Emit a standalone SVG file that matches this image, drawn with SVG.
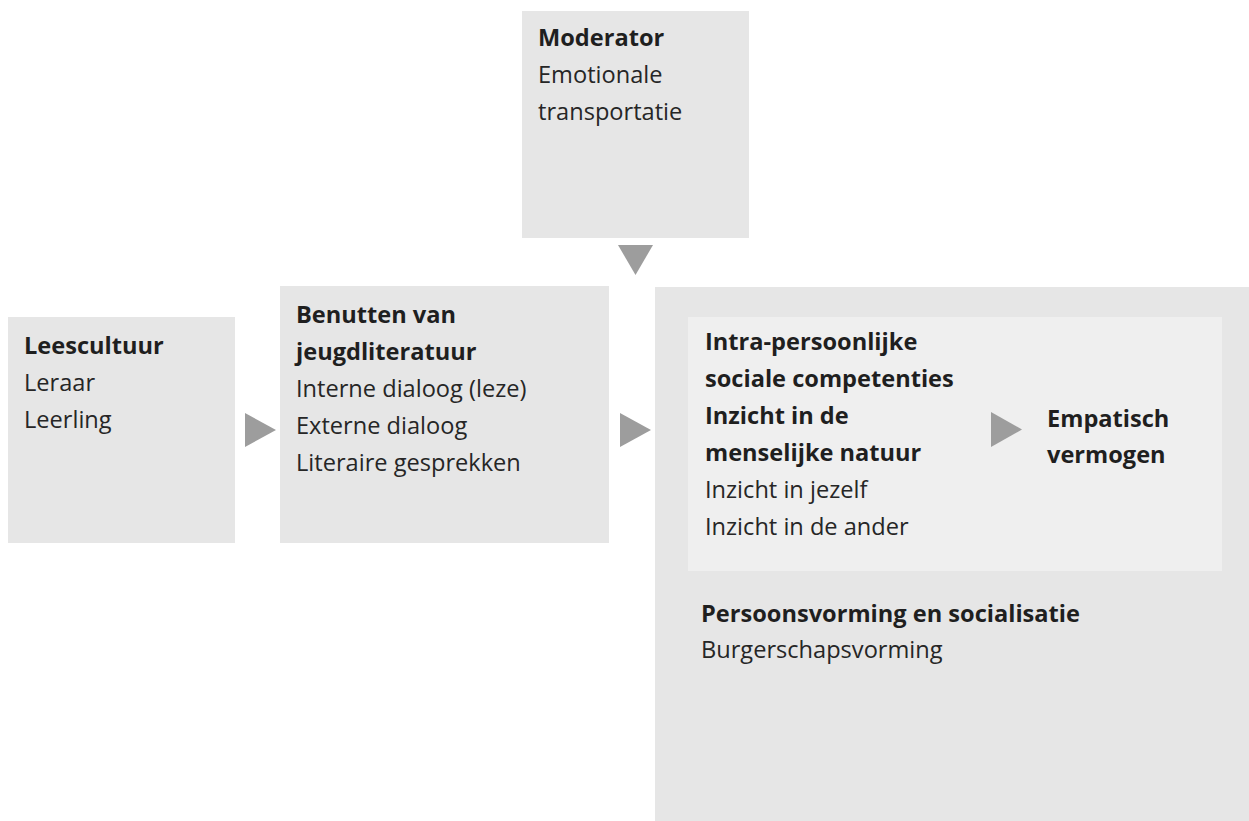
<svg xmlns="http://www.w3.org/2000/svg" width="1249" height="821" viewBox="0 0 1249 821">
<style>
.box{fill:#e6e6e6}
.inner{fill:#efefef}
.arr{fill:#9d9d9d}
text{font-family:"Open Sans","Noto Sans","Liberation Sans",sans-serif;font-size:23.6px;fill:#262626}
.b{font-weight:bold;fill:#1f1f1f}
</style>
<rect width="1249" height="821" fill="#ffffff"/>
<g id="node-moderator">
<rect class="box" x="522" y="11" width="227" height="227"/>
<text x="538" y="46" class="b">Moderator</text>
<text x="538" y="83">Emotionale</text>
<text x="538" y="120">transportatie</text>
</g>
<g id="node-leescultuur">
<rect class="box" x="8" y="317" width="227" height="226"/>
<text x="24" y="354" class="b">Leescultuur</text>
<text x="24" y="391">Leraar</text>
<text x="24" y="428">Leerling</text>
</g>
<g id="node-benutten">
<rect class="box" x="280" y="286" width="329" height="257"/>
<text x="296" y="323" class="b">Benutten van</text>
<text x="296" y="360" class="b">jeugdliteratuur</text>
<text x="296" y="397">Interne dialoog (leze)</text>
<text x="296" y="434">Externe dialoog</text>
<text x="296" y="471">Literaire gesprekken</text>
</g>
<g id="node-persoonsvorming">
<rect class="box" x="655" y="287" width="594" height="534"/>
<text x="701" y="622" class="b">Persoonsvorming en socialisatie</text>
<text x="701" y="658">Burgerschapsvorming</text>
</g>
<g id="node-competenties">
<rect class="inner" x="688" y="317" width="534" height="254"/>
<text x="705" y="350" class="b">Intra-persoonlijke</text>
<text x="705" y="387" class="b">sociale competenties</text>
<text x="705" y="424" class="b">Inzicht in de</text>
<text x="705" y="461" class="b">menselijke natuur</text>
<text x="705" y="498">Inzicht in jezelf</text>
<text x="705" y="535">Inzicht in de ander</text>
</g>
<g id="node-empatisch">
<text x="1047" y="427" class="b">Empatisch</text>
<text x="1047" y="463" class="b">vermogen</text>
</g>
<g id="connectors">
<polygon class="arr" points="618,245 653,245 635.5,275"/>
<polygon class="arr" points="245,413 245,447 276,430"/>
<polygon class="arr" points="620,413 620,447 651,430"/>
<polygon class="arr" points="991,412 991,447 1022,429.5"/>
</g>
</svg>
